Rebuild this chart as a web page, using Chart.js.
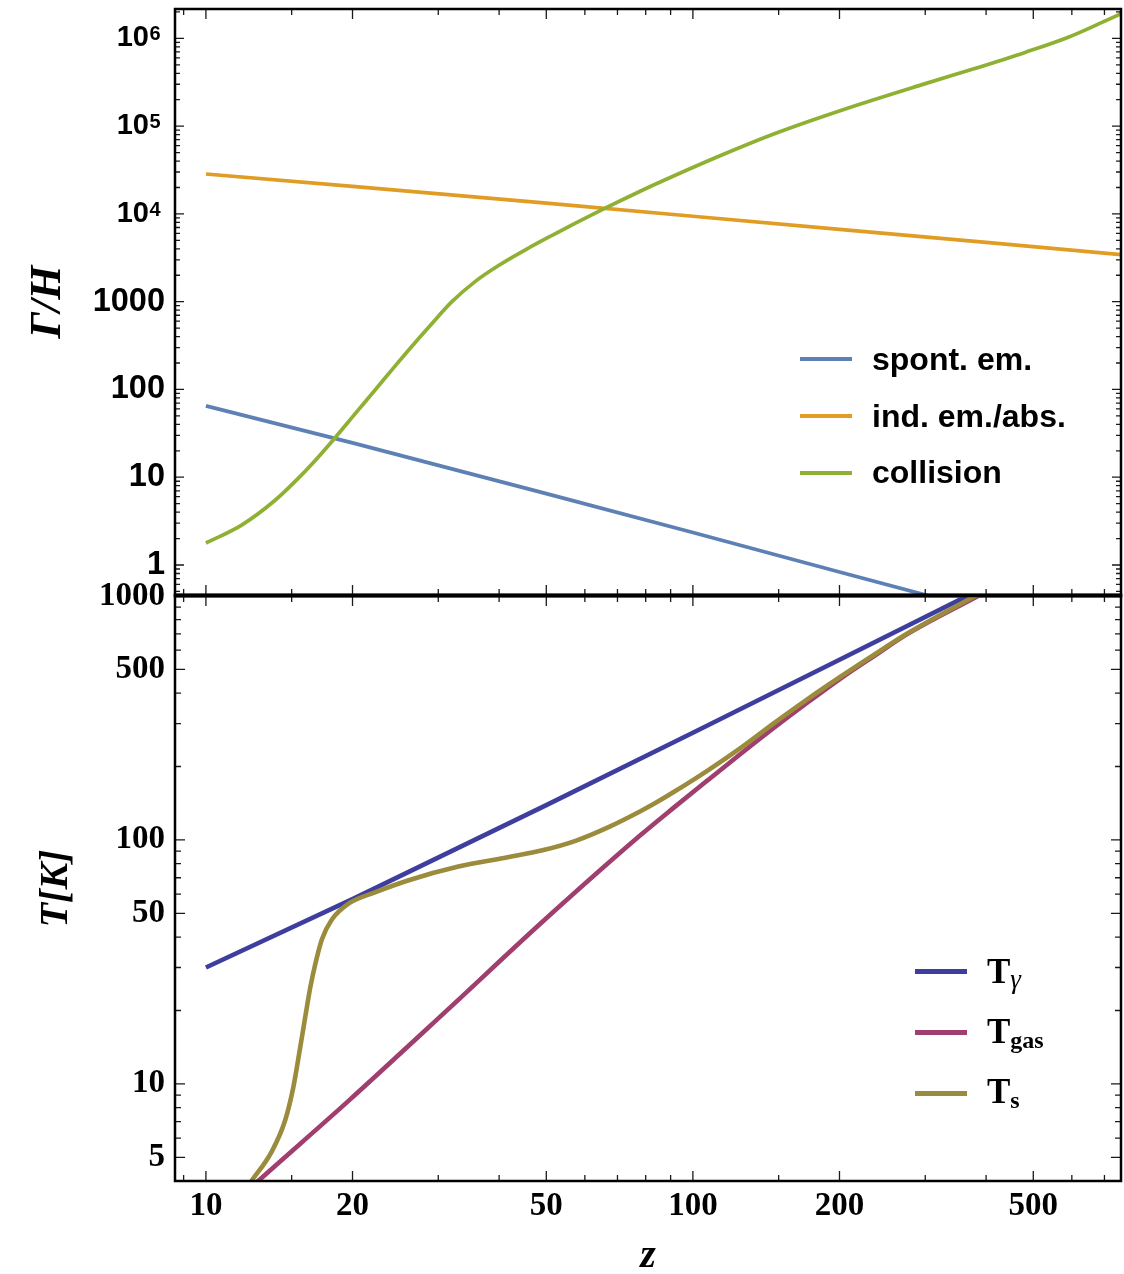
<!DOCTYPE html>
<html>
<head>
<meta charset="utf-8">
<script src="https://cdn.jsdelivr.net/npm/chart.js@4.4.1/dist/chart.umd.min.js"></script>
<style>
html,body{margin:0;padding:0;background:#fff;}
#wrap{position:relative;width:1124px;height:1274px;overflow:hidden;background:#fff;}
canvas{position:absolute;left:0;}
.ls{position:absolute;}
.lt{position:absolute;font-family:'Liberation Sans',Arial,sans-serif;font-weight:bold;font-size:32px;line-height:32px;white-space:nowrap;color:#000;}
.lb{position:absolute;font-family:'Liberation Serif','Times New Roman',serif;font-weight:bold;font-size:35px;line-height:35px;white-space:nowrap;color:#000;}
.sb{font-size:24px;position:relative;top:5px;}
.sg{font-size:27px;font-style:italic;font-weight:normal;position:relative;top:5px;}
</style>
</head>
<body>
<div id="wrap">
  <canvas id="cTop" width="1124" height="640" style="top:0;width:1124px;height:640px"></canvas>
  <canvas id="cBot" width="1124" height="714" style="top:560px;width:1124px;height:714px"></canvas>

  <div class="ls" style="left:800px;top:357px;width:52px;height:4px;background:#5E81B5"></div>
  <div class="lt" style="left:872px;top:343px">spont. em.</div>
  <div class="ls" style="left:800px;top:414px;width:52px;height:4px;background:#E19C24"></div>
  <div class="lt" style="left:872px;top:400px">ind. em./abs.</div>
  <div class="ls" style="left:800px;top:471px;width:52px;height:4px;background:#8FB032"></div>
  <div class="lt" style="left:872px;top:456px">collision</div>

  <div class="ls" style="left:915px;top:968.5px;width:52px;height:5px;background:#3E3E9E"></div>
  <div class="lb" style="left:987px;top:954px">T<span class="sg">γ</span></div>
  <div class="ls" style="left:915px;top:1029.5px;width:52px;height:5px;background:#A03F6F"></div>
  <div class="lb" style="left:987px;top:1014px">T<span class="sb">gas</span></div>
  <div class="ls" style="left:915px;top:1090.5px;width:52px;height:5px;background:#9B8B3C"></div>
  <div class="lb" style="left:987px;top:1074px">T<span class="sb">s</span></div>
</div>
<script>
// ---------------- data ----------------
const xMin = 8.64, xMax = 757;
const topYMin = 0.455, topYMax = 2.16e6;
const botYMin = 4.0, botYMax = 1000;

const xTickValues = [10, 20, 50, 100, 200, 500];
const xTickLabels = ['10', '20', '50', '100', '200', '500'];
const xMinorTicks = [9, 15, 30, 40, 60, 70, 80, 90, 150, 300, 400, 600, 700];

const topTickValues = [1, 10, 100, 1000, 10000, 100000, 1000000];
const topTickLabels = ['1', '10', '100', '1000', '10', '10', '10'];
const topTickExponents = ['', '', '', '', '4', '5', '6'];
const topMinorTicks = [0.5, 0.6, 0.7, 0.8, 0.9, 2, 3, 4, 5, 6, 7, 8, 9,
  20, 30, 40, 50, 60, 70, 80, 90, 200, 300, 400, 500, 600, 700, 800, 900,
  2000, 3000, 4000, 5000, 6000, 7000, 8000, 9000,
  20000, 30000, 40000, 50000, 60000, 70000, 80000, 90000,
  200000, 300000, 400000, 500000, 600000, 700000, 800000, 900000, 2000000];

const botTickValues = [5, 10, 50, 100, 500, 1000];
const botTickLabels = ['5', '10', '50', '100', '500', '1000'];
const botMinorTicks = [6, 7, 8, 9, 20, 30, 40, 60, 70, 80, 90, 200, 300, 400, 600, 700, 800, 900];

// top panel: Gamma/H
const zSpont = [10, 20, 50, 100, 200, 320];
const spontEm = [65, 24.6, 6.5, 2.34, 0.83, 0.415];

const zInd = [10, 20, 50, 100, 200, 400, 757];
const indEmAbs = [28500, 20600, 13240, 9400, 6670, 4730, 3430];

const zColl = [10, 11.84, 13.87, 15.74, 17.0, 18.4, 20.3, 22.3, 24.5, 26.9, 28.7, 32.0, 35.7, 39.9,
  45.3, 51.4, 57.4, 66.2, 74.0, 83.9, 114, 147, 202, 299, 379, 481, 590, 692, 760];
const collision = [1.78, 2.85, 5.46, 10.7, 16.9, 28.0, 53.7, 100, 187, 343, 515, 1000, 1693, 2582,
  3899, 5699, 7846, 11700, 15780, 21900, 46300, 82000, 152000, 303000, 453000, 692000, 1030000, 1520000, 1930000];

// bottom panel: temperatures
const zTgamma = [10, 20, 50, 100, 200, 400];
const Tgamma = [30.0, 57.2, 139, 275, 548, 1093];

const zTgas = [12.0, 12.8, 19.6, 31.5, 49.1, 78.2, 91.5, 107, 125.6, 147, 172, 202, 236, 276.6, 385, 420];
const Tgas = [3.56, 4.0, 8.5, 20.3, 46.2, 105, 136, 175, 226, 289, 366, 462, 569, 701, 1000, 1100];

const zTs = [12.0, 12.4, 13.65, 14.54, 15.1, 15.48, 16.0, 16.37, 16.76, 17.3, 18.14, 19.6, 22.3, 26.1,
  33.0, 41.9, 49.1, 57.4, 67.3, 78.2, 83.9, 91.5, 107, 125.6, 147, 172, 202, 236, 276.6, 385, 420];
const Ts = [3.65, 4.0, 5.28, 7.08, 9.58, 12.7, 18.9, 24.7, 30.8, 39.1, 47.2, 54.7, 61.1, 68.4,
  77.8, 85.1, 90.7, 99.2, 113.2, 131.5, 142, 157.5, 192, 239, 302, 378, 470, 576, 705, 1014, 1112];

// ---------------- helpers ----------------
const SANS = "'Liberation Sans', Arial, sans-serif";
const SERIF = "'Liberation Serif', 'Times New Roman', serif";

function lineDs(label, xs, ys, color, width, order, smooth) {
  return {
    label: label,
    data: xs.map((x, i) => ({ x: x, y: ys[i] })),
    borderColor: color,
    backgroundColor: color,
    borderWidth: width,
    pointRadius: 0,
    pointHoverRadius: 0,
    fill: false,
    order: order,
    tension: 0,
    cubicInterpolationMode: smooth ? 'monotone' : 'default',
    clip: 0
  };
}

function makeFrame(cfg) {
  return {
    id: 'frameTicks',
    afterDraw(chart) {
      const ctx = chart.ctx, a = chart.chartArea;
      const xs = chart.scales.x, ys = chart.scales.y;
      ctx.save();
      ctx.beginPath();
      ctx.rect(a.left, a.top, a.right - a.left, a.bottom - a.top);
      ctx.clip();
      ctx.strokeStyle = '#1a1a1a';
      ctx.lineWidth = 1.3;
      ctx.beginPath();
      const hx = (v, len) => {
        const p = xs.getPixelForValue(v);
        ctx.moveTo(p, a.top); ctx.lineTo(p, a.top + len);
        ctx.moveTo(p, a.bottom); ctx.lineTo(p, a.bottom - len);
      };
      const hy = (v, len) => {
        const p = ys.getPixelForValue(v);
        ctx.moveTo(a.left, p); ctx.lineTo(a.left + len, p);
        ctx.moveTo(a.right, p); ctx.lineTo(a.right - len, p);
      };
      xTickValues.forEach(v => hx(v, 10));
      xMinorTicks.forEach(v => hx(v, 6));
      cfg.yMajor.forEach(v => hy(v, cfg.yMajorLen));
      cfg.yMinor.forEach(v => hy(v, cfg.yMinorLen));
      ctx.stroke();
      ctx.restore();

      ctx.save();
      ctx.strokeStyle = '#000';
      ctx.lineWidth = 2.5;
      ctx.strokeRect(a.left, a.top, a.right - a.left, a.bottom - a.top);
      if (cfg.thickBottom) {
        ctx.lineWidth = 4;
        ctx.beginPath();
        ctx.moveTo(a.left - 1.25, a.bottom + 0.5);
        ctx.lineTo(a.right + 1.25, a.bottom + 0.5);
        ctx.stroke();
      }
      ctx.restore();

      // exponents of the "10^n" tick labels
      if (cfg.exponents) {
        ctx.save();
        ctx.fillStyle = '#000';
        ctx.font = "bold 20px " + SANS;
        ctx.textAlign = 'left';
        ctx.textBaseline = 'alphabetic';
        cfg.yMajor.forEach((v, i) => {
          const e = cfg.exponents[i];
          if (!e) return;
          const p = ys.getPixelForValue(v);
          ctx.fillText(e, 149.5, p + 2);
        });
        ctx.restore();
      }
    }
  };
}

// ---------------- top chart ----------------
new Chart(document.getElementById('cTop'), {
  type: 'line',
  data: {
    datasets: [
      lineDs('spont. em.', zSpont, spontEm, '#5E81B5', 3.7, 2, false),
      lineDs('ind. em./abs.', zInd, indEmAbs, '#E19C24', 3.7, 1, false),
      lineDs('collision', zColl, collision, '#8FB032', 3.7, 0, true)
    ]
  },
  options: {
    responsive: false,
    animation: false,
    devicePixelRatio: 1,
    events: [],
    layout: { padding: { top: 9, right: 3, bottom: 45, left: 0 } },
    plugins: { legend: { display: false }, tooltip: { enabled: false } },
    scales: {
      x: { type: 'logarithmic', min: xMin, max: xMax, display: false },
      y: {
        type: 'logarithmic', min: topYMin, max: topYMax, position: 'left',
        grid: { display: false, drawTicks: false },
        border: { display: false },
        ticks: {
          autoSkip: false, padding: 10, color: '#000',
          font: (c) => ({ family: SANS, size: (c.tick && c.tick.value >= 10000) ? 29 : 32.5, weight: 'bold', lineHeight: 1 }),
          callback: (v) => {
            const i = topTickValues.indexOf(v);
            if (i < 0) return '';
            return topTickExponents[i] ? topTickLabels[i] + '  ' : topTickLabels[i];
          }
        },
        afterBuildTicks: (s) => { s.ticks = topTickValues.map(v => ({ value: v })); },
        afterFit: (s) => { s.width = 175; s.paddingTop = 0; s.paddingBottom = 0; },
        title: {
          display: true, text: 'Γ/H', color: '#000',
          font: { family: SERIF, size: 44, weight: 'bold', style: 'italic', lineHeight: 1 },
          padding: { top: 26.5, bottom: 0 }
        }
      }
    }
  },
  plugins: [makeFrame({ yMajor: topTickValues, yMinor: topMinorTicks, yMajorLen: 9, yMinorLen: 5, thickBottom: true, exponents: topTickExponents })]
});

// ---------------- bottom chart ----------------
new Chart(document.getElementById('cBot'), {
  type: 'line',
  data: {
    datasets: [
      lineDs('Tγ', zTgamma, Tgamma, '#3E3E9E', 4.6, 2, false),
      lineDs('Tgas', zTgas, Tgas, '#A03F6F', 4.6, 1, true),
      lineDs('Ts', zTs, Ts, '#9B8B3C', 4.6, 0, true)
    ]
  },
  options: {
    responsive: false,
    animation: false,
    devicePixelRatio: 1,
    events: [],
    layout: { padding: { top: 36, right: 3, bottom: 0, left: 0 } },
    plugins: { legend: { display: false }, tooltip: { enabled: false } },
    scales: {
      x: {
        type: 'logarithmic', min: xMin, max: xMax, position: 'bottom',
        grid: { display: false, drawTicks: false },
        border: { display: false },
        ticks: {
          autoSkip: false, maxRotation: 0, minRotation: 0, padding: 6, color: '#000',
          font: { family: SERIF, size: 33, weight: 'bold' },
          callback: (v) => { const i = xTickValues.indexOf(v); return i >= 0 ? xTickLabels[i] : ''; }
        },
        afterBuildTicks: (s) => { s.ticks = xTickValues.map(v => ({ value: v })); },
        afterFit: (s) => { s.height = 93; s.paddingLeft = 0; s.paddingRight = 0; },
        title: {
          display: true, text: 'z', color: '#000',
          font: { family: SERIF, size: 40, weight: 'bold', style: 'italic', lineHeight: 0.8 },
          padding: { top: 0, bottom: 1 }
        }
      },
      y: {
        type: 'logarithmic', min: botYMin, max: botYMax, position: 'left',
        grid: { display: false, drawTicks: false },
        border: { display: false },
        ticks: {
          autoSkip: false, padding: 10, color: '#000',
          font: { family: SERIF, size: 33, weight: 'bold', lineHeight: 1 },
          callback: (v) => { const i = botTickValues.indexOf(v); return i >= 0 ? botTickLabels[i] : ''; }
        },
        afterBuildTicks: (s) => { s.ticks = botTickValues.map(v => ({ value: v })); },
        afterFit: (s) => { s.width = 175; s.paddingTop = 0; s.paddingBottom = 0; },
        title: {
          display: true, text: 'T[K]', color: '#000',
          font: { family: SERIF, size: 40, weight: 'bold', style: 'italic', lineHeight: 1 },
          padding: { top: 36.5, bottom: 0 }
        }
      }
    }
  },
  plugins: [makeFrame({ yMajor: botTickValues, yMinor: botMinorTicks, yMajorLen: 10, yMinorLen: 6, thickBottom: false })]
});
</script>
</body>
</html>
